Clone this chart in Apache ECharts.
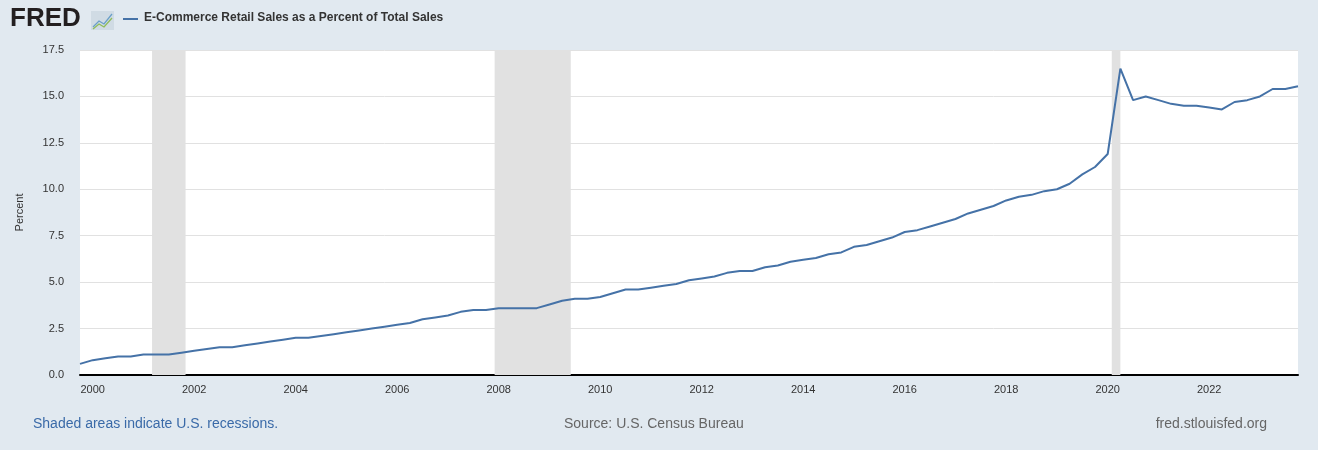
<!DOCTYPE html>
<html><head><meta charset="utf-8">
<script src="https://cdn.jsdelivr.net/npm/echarts@6/dist/echarts.min.js"></script>
<style>html,body{margin:0;padding:0;background:#e1e9f0}#c{width:1318px;height:450px}</style>
</head><body><div id="c"></div>
<script>
const startYear = 1999.75; // 1999 Q4
const quarterStep = 0.25;
const values = [0.6,
 0.8,0.9,1.0,1.0, 1.1,1.1,1.1,1.2, 1.3,1.4,1.5,1.5, 1.6,1.7,1.8,1.9,
 2.0,2.0,2.1,2.2, 2.3,2.4,2.5,2.6, 2.7,2.8,3.0,3.1, 3.2,3.4,3.5,3.5,
 3.6,3.6,3.6,3.6, 3.8,4.0,4.1,4.1, 4.2,4.4,4.6,4.6, 4.7,4.8,4.9,5.1,
 5.2,5.3,5.5,5.6, 5.6,5.8,5.9,6.1, 6.2,6.3,6.5,6.6, 6.9,7.0,7.2,7.4,
 7.7,7.8,8.0,8.2, 8.4,8.7,8.9,9.1, 9.4,9.6,9.7,9.9, 10.0,10.3,10.8,11.2,
 11.9,16.5,14.8,15.0, 14.8,14.6,14.5,14.5, 14.4,14.3,14.7,14.8, 15.0,15.4,15.4,15.55];
const recessions = [[2001.17,2001.83],[2007.92,2009.42],[2020.08,2020.25]];
const yTicks = [0,2.5,5,7.5,10,12.5,15,17.5];
const xLabelYears = [2000,2002,2004,2006,2008,2010,2012,2014,2016,2018,2020,2022];

const data = values.map((v,i)=>[startYear+i*quarterStep, v]);
const chart = echarts.init(document.getElementById('c'));
chart.setOption({
  backgroundColor:'#e1e9f0',
  animation:false,
  grid:{left:80,right:20,top:50,bottom:75,show:true,backgroundColor:'#fff',borderWidth:0},
  xAxis:{type:'value',min:1999.75,max:1999.75+(values.length-1)*quarterStep,interval:0.25,
    axisLine:{lineStyle:{color:'#000',width:2}},axisTick:{show:false},splitLine:{show:false},
    axisLabel:{interval:0,hideOverlap:false,showMinLabel:true,color:'#333',fontSize:11,fontFamily:'Arial, Liberation Sans',margin:9,
      formatter:v=>{const r=Math.round(v);return (Math.abs(v-r)<1e-6 && xLabelYears.includes(r))?String(r):'';}}},
  yAxis:{type:'value',min:0,max:17.5,interval:2.5,name:'Percent',nameLocation:'middle',nameGap:55,
    nameTextStyle:{color:'#333',fontSize:11,fontFamily:'Arial, Liberation Sans'},
    axisLine:{show:false},axisTick:{show:false},
    splitLine:{lineStyle:{color:'#e1e1e1'}},
    axisLabel:{color:'#333',fontSize:11,fontFamily:'Arial, Liberation Sans',margin:16,formatter:v=>v.toFixed(1)}},
  series:[{type:'line',data:data,symbol:'none',lineStyle:{color:'#4572a7',width:2},
    markArea:{silent:true,itemStyle:{color:'#e1e1e1'},data:recessions.map(r=>[{xAxis:r[0]},{xAxis:r[1]}])}}],
  graphic:[
    {type:'text',left:10,top:6,style:{text:'FRED',font:'bold 26px Arial, Liberation Sans',fill:'#231f20'}},
    {type:'rect',shape:{x:91,y:11,width:23,height:19},style:{fill:'#d0dbe4'}},
    {type:'polyline',shape:{points:[[93,27],[99,21],[104,24],[112,14]]},style:{stroke:'#6a9fc8',lineWidth:1.3,fill:null}},
    {type:'polyline',shape:{points:[[93,29],[99,24],[104,27],[112,18]]},style:{stroke:'#8fbc5a',lineWidth:1.3,fill:null}},
    {type:'line',shape:{x1:123,y1:19,x2:138,y2:19},style:{stroke:'#4572a7',lineWidth:2}},
    {type:'text',left:144,top:12,style:{text:'E-Commerce Retail Sales as a Percent of Total Sales',font:'bold 12px Arial, Liberation Sans',fill:'#333'}},
    {type:'text',left:33,top:417,style:{text:'Shaded areas indicate U.S. recessions.',font:'14px Arial, Liberation Sans',fill:'#3a6aa8'}},
    {type:'text',left:564,top:417,style:{text:'Source: U.S. Census Bureau',font:'14px Arial, Liberation Sans',fill:'#666'}},
    {type:'text',right:51,top:417,style:{text:'fred.stlouisfed.org',font:'14px Arial, Liberation Sans',fill:'#666'}}
  ]
});
</script></body></html>
